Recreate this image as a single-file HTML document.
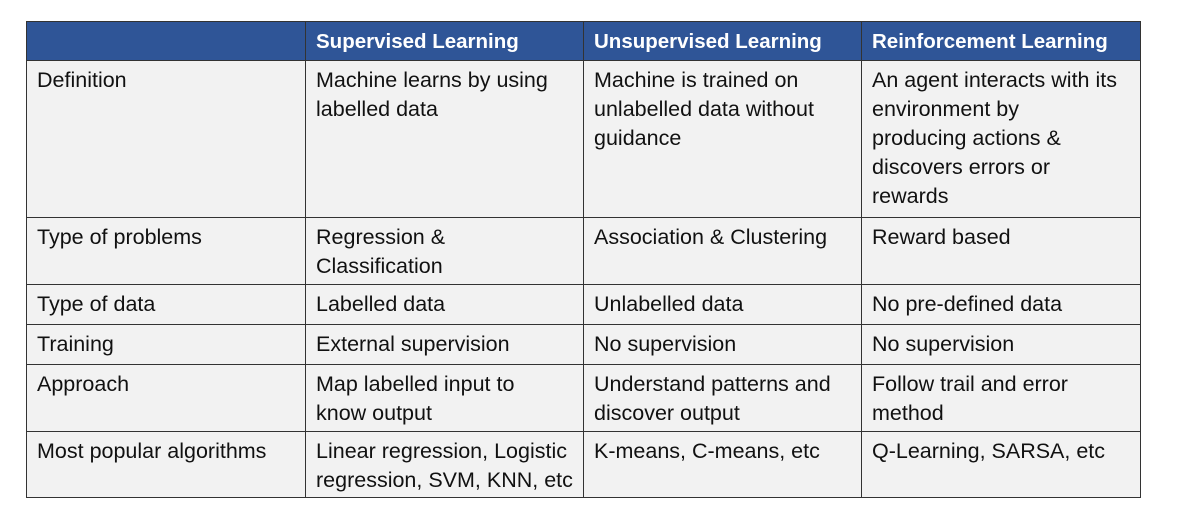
<!DOCTYPE html>
<html><head><meta charset="utf-8"><style>
body{margin:0;width:1177px;height:525px;background:#fff;position:relative;font-family:"Liberation Sans",sans-serif;}
table{position:absolute;left:26px;top:21px;border-collapse:collapse;table-layout:fixed;width:1114px;}
td,th{border:1px solid #333;vertical-align:top;padding:5px 0 0 10px;font-size:21.5px;line-height:29px;color:#111;background:#f2f2f2;text-align:left;white-space:nowrap;overflow:hidden;}
th{background:#2f5597;color:#fff;font-weight:bold;font-size:20.5px;height:33px;padding-top:5px;}
</style></head><body>
<table>
<colgroup><col style="width:279px"><col style="width:278px"><col style="width:278px"><col style="width:279px"></colgroup>
<tr><th></th><th>Supervised Learning</th><th>Unsupervised Learning</th><th>Reinforcement Learning</th></tr>
<tr style="height:157px"><td>Definition</td><td>Machine learns by using<br>labelled data</td><td>Machine is trained on<br>unlabelled data without<br>guidance</td><td>An agent interacts with its<br>environment by<br>producing actions &amp;<br>discovers errors or<br>rewards</td></tr>
<tr style="height:67px"><td>Type of problems</td><td>Regression &amp;<br>Classification</td><td>Association &amp; Clustering</td><td>Reward based</td></tr>
<tr style="height:40px"><td>Type of data</td><td>Labelled data</td><td>Unlabelled data</td><td>No pre-defined data</td></tr>
<tr style="height:40px"><td>Training</td><td>External supervision</td><td>No supervision</td><td>No supervision</td></tr>
<tr style="height:67px"><td>Approach</td><td>Map labelled input to<br>know output</td><td>Understand patterns and<br>discover output</td><td>Follow trail and error<br>method</td></tr>
<tr style="height:66px"><td>Most popular algorithms</td><td>Linear regression, Logistic<br>regression, SVM, KNN, etc</td><td>K-means, C-means, etc</td><td>Q-Learning, SARSA, etc</td></tr>
</table>
</body></html>
